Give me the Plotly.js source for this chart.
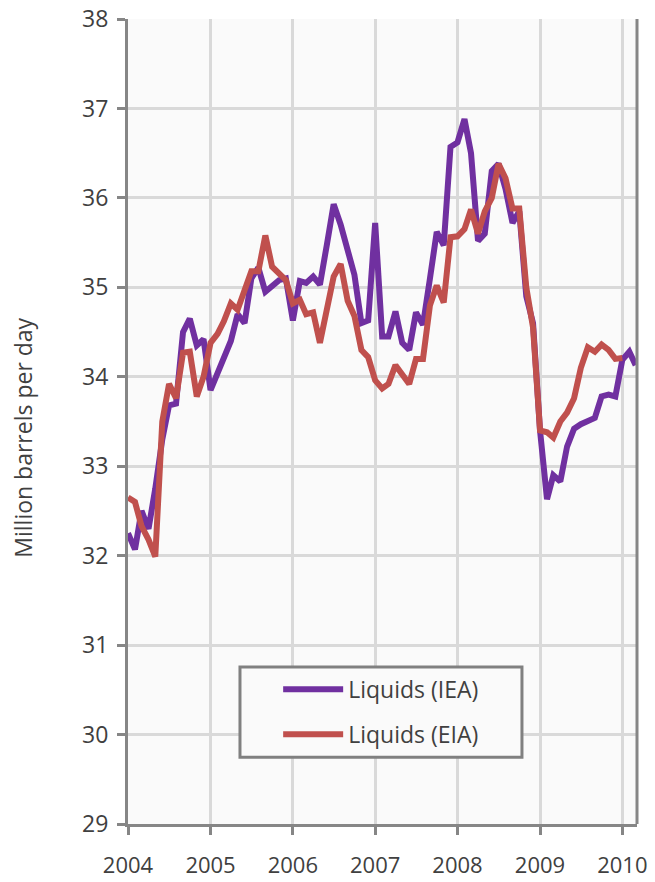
<!DOCTYPE html>
<html>
<head>
<meta charset="utf-8">
<script src="https://cdn.plot.ly/plotly-3.0.1.min.js"></script>
<style>html,body{margin:0;padding:0;background:#fff;}#chart{width:655px;height:882px;}</style>
</head>
<body>
<div id="chart"></div>
<script>
// Monthly data, Jan 2004 onward
var startYear = 2004;
var iea = [
  32.25, 32.07, 32.50, 32.30, 32.75, 33.30, 33.68, 33.70, 34.50, 34.65, 34.35, 34.42,
  33.85, 34.05, 34.20, 34.40, 34.70, 34.60, 35.10, 35.22, 34.95, 35.02, 35.08, 35.10,
  34.63, 35.07, 35.05, 35.12, 35.03, 35.48, 35.93, 35.70, 35.42, 35.14, 34.60, 34.63,
  35.72, 34.45, 34.45, 34.73, 34.38, 34.30, 34.72, 34.58, 35.10, 35.62, 35.47, 36.57,
  36.62, 36.88, 36.50, 35.52, 35.60, 36.30, 36.38, 36.10, 35.72, 35.85, 34.90, 34.60,
  33.40, 32.63, 32.90, 32.83, 33.22, 33.42, 33.47, 33.50, 33.54, 33.78, 33.80, 33.78,
  34.19, 34.28, 34.13
];
var eia = [
  32.65, 32.60, 32.33, 32.18, 31.99, 33.50, 33.92, 33.76, 34.27, 34.28, 33.78, 34.00,
  34.38, 34.48, 34.62, 34.82, 34.75, 34.95, 35.18, 35.18, 35.58, 35.23, 35.15, 35.08,
  34.82, 34.86, 34.70, 34.72, 34.38, 34.73, 35.12, 35.26, 34.85, 34.68, 34.30, 34.22,
  33.96, 33.87, 33.92, 34.13, 34.03, 33.92, 34.20, 34.20, 34.80, 35.02, 34.83, 35.56,
  35.57, 35.65, 35.87, 35.60, 35.85, 36.00, 36.38, 36.22, 35.88, 35.88, 35.00, 34.55,
  33.40, 33.38, 33.32, 33.50, 33.60, 33.76, 34.10, 34.33, 34.28, 34.36, 34.30, 34.20,
  34.21
];
var seriesNames = ['Liquids (IEA)', 'Liquids (EIA)'];
var yearTicks = ['2004', '2005', '2006', '2007', '2008', '2009', '2010'];
var yTicks = [29, 30, 31, 32, 33, 34, 35, 36, 37, 38];
var yTitle = 'Million barrels per day';

function monthDates(n) {
  var out = [];
  for (var i = 0; i < n; i++) {
    var y = startYear + Math.floor(i / 12);
    var m = (i % 12) + 1;
    out.push(y + '-' + (m < 10 ? '0' + m : m) + '-01');
  }
  return out;
}

var textColor = '#404040';
var fontFam = '"Open Sans", "Liberation Sans", sans-serif';

var traces = [
  {x: monthDates(iea.length), y: iea, name: seriesNames[0], type: 'scatter', mode: 'lines',
   line: {color: '#7030A0', width: 6}, legendgroup: 'a'},
  {x: monthDates(eia.length), y: eia, name: seriesNames[1], type: 'scatter', mode: 'lines',
   line: {color: '#C0504D', width: 6}, legendgroup: 'b'}
];

var layout = {
  width: 655, height: 882,
  margin: {l: 128, r: 18, t: 19, b: 58},
  paper_bgcolor: '#ffffff',
  plot_bgcolor: '#fafafa',
  showlegend: true,
  font: {family: fontFam, color: textColor},
  xaxis: {
    type: 'date',
    range: ['2004-01-01', '2010-03-07'],
    tickvals: yearTicks.map(function (y) { return y + '-01-01'; }),
    ticktext: yearTicks,
    tickfont: {size: 22, color: textColor, family: fontFam},
    ticks: 'outside', ticklen: 8, tickwidth: 3, tickcolor: '#868686',
    ticklabelstandoff: 12,
    showgrid: true, gridcolor: '#d9d9d9', gridwidth: 3,
    showline: true, linecolor: '#868686', linewidth: 3,
    zeroline: false, fixedrange: true, automargin: false
  },
  yaxis: {
    range: [29, 38],
    tickvals: yTicks,
    tickfont: {size: 23, color: textColor, family: fontFam},
    ticks: 'outside', ticklen: 8, tickwidth: 3, tickcolor: '#868686',
    ticklabelstandoff: 4,
    showgrid: true, gridcolor: '#d9d9d9', gridwidth: 3,
    showline: true, linecolor: '#868686', linewidth: 3,
    zeroline: false, fixedrange: true, automargin: false
  },
  legend: {
    x: 0.295, y: 0.194, xanchor: 'left', yanchor: 'top',
    bgcolor: 'rgba(0,0,0,0)', borderwidth: 0,
    font: {size: 23, color: textColor, family: fontFam},
    itemwidth: 60, tracegroupgap: 12, entrywidth: 230
  },
  annotations: [
    {text: yTitle, xref: 'paper', yref: 'paper', x: -0.208, y: 0.48,
     xanchor: 'center', yanchor: 'middle', textangle: -90, showarrow: false,
     font: {size: 23, color: textColor, family: fontFam}}
  ],
  shapes: [
    {type: 'line', xref: 'paper', yref: 'paper', x0: 1, x1: 1, y0: 0, y1: 1,
     line: {color: '#868686', width: 3}},
    {type: 'rect', xref: 'paper', yref: 'paper', x0: 0.22, x1: 0.774, y0: 0.083, y1: 0.195,
     line: {color: '#808080', width: 3}, fillcolor: 'rgba(250,250,250,1)', layer: 'above'}
  ]
};

Plotly.newPlot('chart', traces, layout, {displayModeBar: false, staticPlot: true});
</script>
</body>
</html>
